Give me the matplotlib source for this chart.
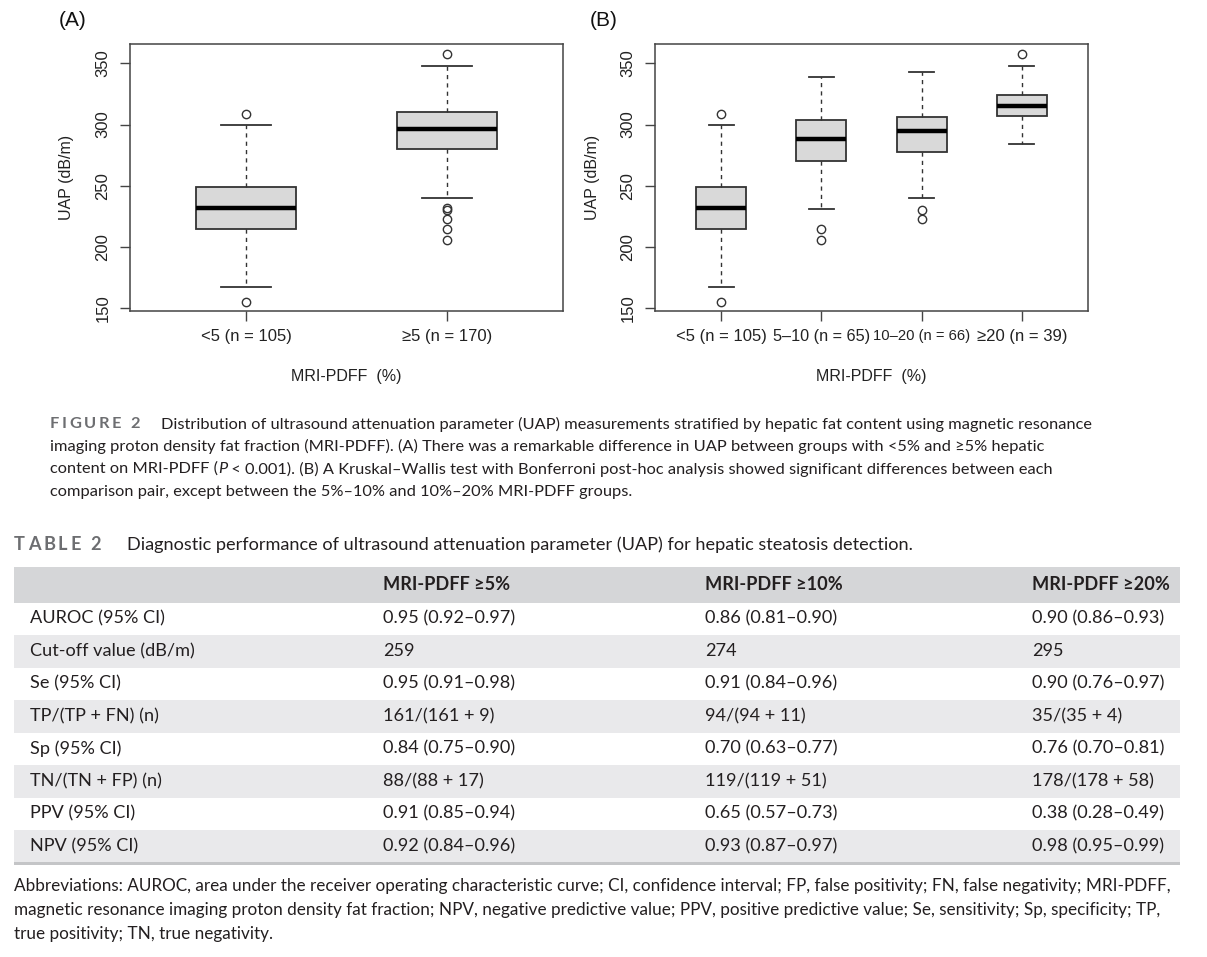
import matplotlib.pyplot as plt
from matplotlib.patches import Rectangle

W, H = 1207, 957

# ---- panel A: UAP by MRI-PDFF <5 / >=5 ----
groups_a = ['<5 (n = 105)', '≥5 (n = 170)']
q1_a = [215, 280]
med_a = [232, 296]
q3_a = [249, 310]
lo_a = [167, 240]
hi_a = [300, 348]
out_a = [[309, 155], [358, 232, 230, 223, 215, 206]]

# ---- panel B: four MRI-PDFF groups ----
groups_b = ['<5 (n = 105)', '5–10 (n = 65)', '10–20 (n = 66)', '≥20 (n = 39)']
q1_b = [215, 270, 278, 307]
med_b = [232, 288, 295, 315]
q3_b = [249, 304, 306, 324]
lo_b = [167, 231, 240, 284]
hi_b = [300, 339, 343, 348]
out_b = [[309, 155], [215, 206], [230, 223], [358]]

# ---- table 2 ----
col_heads = ['', 'MRI-PDFF ≥5%', 'MRI-PDFF ≥10%', 'MRI-PDFF ≥20%']
row_labels = ['AUROC (95% CI)', 'Cut-off value (dB/m)', 'Se (95% CI)', 'TP/(TP + FN) (n)',
              'Sp (95% CI)', 'TN/(TN + FP) (n)', 'PPV (95% CI)', 'NPV (95% CI)']
pdff5 = ['0.95 (0.92–0.97)', '259', '0.95 (0.91–0.98)', '161/(161 + 9)',
         '0.84 (0.75–0.90)', '88/(88 + 17)', '0.91 (0.85–0.94)', '0.92 (0.84–0.96)']
pdff10 = ['0.86 (0.81–0.90)', '274', '0.91 (0.84–0.96)', '94/(94 + 11)',
          '0.70 (0.63–0.77)', '119/(119 + 51)', '0.65 (0.57–0.73)', '0.93 (0.87–0.97)']
pdff20 = ['0.90 (0.86–0.93)', '295', '0.90 (0.76–0.97)', '35/(35 + 4)',
          '0.76 (0.70–0.81)', '178/(178 + 58)', '0.38 (0.28–0.49)', '0.98 (0.95–0.99)']

caption = [
    'Distribution of ultrasound attenuation parameter (UAP) measurements stratified by hepatic fat content using magnetic resonance',
    'imaging proton density fat fraction (MRI-PDFF). (A) There was a remarkable difference in UAP between groups with <5% and ≥5% hepatic',
    'content on MRI-PDFF (|P| < 0.001). (B) A Kruskal–Wallis test with Bonferroni post-hoc analysis showed significant differences between each',
    'comparison pair, except between the 5%–10% and 10%–20% MRI-PDFF groups.',
]
footnote = [
    'Abbreviations: AUROC, area under the receiver operating characteristic curve; CI, confidence interval; FP, false positivity; FN, false negativity; MRI-PDFF,',
    'magnetic resonance imaging proton density fat fraction; NPV, negative predictive value; PPV, positive predictive value; Se, sensitivity; Sp, specificity; TP,',
    'true positivity; TN, true negativity.',
]

PLOT_FONT = ['Liberation Sans', 'DejaVu Sans']
TEXT_FONT = ['Lato', 'DejaVu Sans']
INK = '#231f20'

fig = plt.figure(figsize=(W / 100, H / 100), dpi=100)
rend = fig.canvas.get_renderer()


def fx(px):
    return px / W


def fy(py):
    return 1 - py / H


def width_of(s, **kw):
    t = fig.text(0, 0, s, **kw)
    w = t.get_window_extent(rend).width
    t.remove()
    return w


def fit_size(s, target, **kw):
    return 10 * target / width_of(s, fontsize=10, **kw)


def boxpanel(rect, labels, q1, med, q3, lo, hi, outs, tag, tag_x, ylab_x, max_label_w):
    ax = fig.add_axes([fx(rect[0]), fy(rect[3]), fx(rect[2] - rect[0]), (rect[3] - rect[1]) / H])
    n = len(labels)
    stats = [dict(med=med[i], q1=q1[i], q3=q3[i], whislo=lo[i], whishi=hi[i], fliers=outs[i], label=labels[i])
             for i in range(n)]
    ax.bxp(stats, positions=list(range(1, n + 1)), widths=0.5, capwidths=0.25, patch_artist=True,
           boxprops=dict(facecolor='#d9d9d9', edgecolor='#333333', linewidth=1.3),
           medianprops=dict(color='black', linewidth=3.2, solid_capstyle='butt'),
           whiskerprops=dict(color='#333333', linestyle=(0, (3, 3)), linewidth=1),
           capprops=dict(color='#333333', linewidth=1.3),
           flierprops=dict(marker='o', markerfacecolor='none', markeredgecolor='#333333',
                           markersize=6, markeredgewidth=1))
    ax.set_xlim(0.5 - 0.04 * n, n + 0.5 + 0.04 * n)
    ax.set_ylim(147.8, 365.8)
    ax.set_yticks([150, 200, 250, 300, 350])
    for sp in ax.spines.values():
        sp.set_color('#444444')
        sp.set_linewidth(1.1)
    ax.tick_params(length=7, width=1, color='#444444', labelsize=12, labelcolor='#222222')
    ax.tick_params(axis='x', pad=6)
    ax.tick_params(axis='y', pad=7, labelrotation=90)
    for lab in ax.get_yticklabels() + ax.get_xticklabels():
        lab.set_fontfamily(PLOT_FONT)
    for lab in ax.get_yticklabels():
        lab.set_verticalalignment('center')
    # shrink crowded category labels so neighbours don't touch
    for lab in ax.get_xticklabels():
        w = width_of(lab.get_text(), fontsize=12, family=PLOT_FONT)
        if w > max_label_w:
            lab.set_fontsize(12 * max_label_w / w)
    ax.set_xlabel('MRI-PDFF  (%)', fontsize=11.5, family=PLOT_FONT, color='#222222')
    ax.xaxis.set_label_coords(0.5, -(377 - rect[3]) / (rect[3] - rect[1]))
    ax.xaxis.label.set_verticalalignment('center')
    ax.set_ylabel('UAP (dB/m)', fontsize=11.5, family=PLOT_FONT, color='#222222')
    ax.yaxis.set_label_coords(-(rect[0] - ylab_x) / (rect[2] - rect[0]), 0.5)
    ax.yaxis.label.set_verticalalignment('center')
    fig.text(fx(tag_x), fy(21), tag, fontsize=15, family=PLOT_FONT, ha='center', va='center', color='#111111')
    return ax


boxpanel((130, 44, 563, 311), groups_a, q1_a, med_a, q3_a, lo_a, hi_a, out_a, '(A)', 73, 66, 180)
boxpanel((655, 44, 1088, 311), groups_b, q1_b, med_b, q3_b, lo_b, hi_b, out_b, '(B)', 604, 592, 97)


def spaced(x, y, s, gap, **kw):
    for ch in s:
        if ch == ' ':
            x += width_of('a a', **kw) - width_of('aa', **kw) + gap
            continue
        t = fig.text(fx(x), fy(y), ch, va='center', **kw)
        x += t.get_window_extent(rend).width + gap


def line(x, y, s, **kw):
    # '|' marks an italic run
    parts = s.split('|')
    for k, p in enumerate(parts):
        if not p:
            continue
        style = 'italic' if k % 2 else 'normal'
        t = fig.text(fx(x), fy(y), p, va='center', fontstyle=style, **kw)
        x += t.get_window_extent(rend).width


# ---- figure caption ----
cap_size = fit_size(caption[0], 1092 - 161, family=TEXT_FONT)
spaced(50, 424, 'FIGURE 2', 2.6, fontsize=cap_size, family=TEXT_FONT, fontweight='bold', color='#6d6e71')
line(161, 424, caption[0], fontsize=cap_size, family=TEXT_FONT, color=INK)
for i, s in enumerate(caption[1:]):
    line(50, 446 + 23 * i, s, fontsize=cap_size, family=TEXT_FONT, color=INK)

# ---- table title ----
title_txt = 'Diagnostic performance of ultrasound attenuation parameter (UAP) for hepatic steatosis detection.'
tsize = fit_size(title_txt, 915 - 127, family=TEXT_FONT)
spaced(14, 545, 'TABLE 2', 2.8, fontsize=tsize, family=TEXT_FONT, fontweight='bold', color='#6d6e71')
line(127, 545, title_txt, fontsize=tsize, family=TEXT_FONT, color=INK)

# ---- table body ----
x0, x1 = 14, 1180
head_top, head_bot, row_h = 567, 602.5, 32.5
col_x = [30, 383, 705, 1032]
fig.add_artist(Rectangle((fx(x0), fy(head_bot)), fx(x1 - x0), (head_bot - head_top) / H,
                         transform=fig.transFigure, facecolor='#d5d6d8', edgecolor='none'))
for j, h in enumerate(col_heads):
    if h:
        fig.text(fx(col_x[j]), fy((head_top + head_bot) / 2), h, fontsize=tsize, family=TEXT_FONT,
                 fontweight='bold', va='center', color=INK)
columns = [row_labels, pdff5, pdff10, pdff20]
for i in range(len(row_labels)):
    top = head_bot + row_h * i
    if i % 2 == 1:
        fig.add_artist(Rectangle((fx(x0), fy(top + row_h)), fx(x1 - x0), row_h / H,
                                 transform=fig.transFigure, facecolor='#e9e9eb', edgecolor='none'))
    for j, col in enumerate(columns):
        fig.text(fx(col_x[j]), fy(top + row_h / 2), col[i], fontsize=tsize, family=TEXT_FONT,
                 va='center', color=INK)
bot = head_bot + row_h * len(row_labels)
fig.add_artist(Rectangle((fx(x0), fy(bot + 2)), fx(x1 - x0), 2.5 / H,
                         transform=fig.transFigure, facecolor='#c4c5c7', edgecolor='none'))

# ---- abbreviations ----
fn_size = fit_size(footnote[0], 1170 - 14, family=TEXT_FONT)
for i, s in enumerate(footnote):
    line(14, 886 + 24 * i, s, fontsize=fn_size, family=TEXT_FONT, color=INK)

fig.savefig('out.png', dpi=100)
